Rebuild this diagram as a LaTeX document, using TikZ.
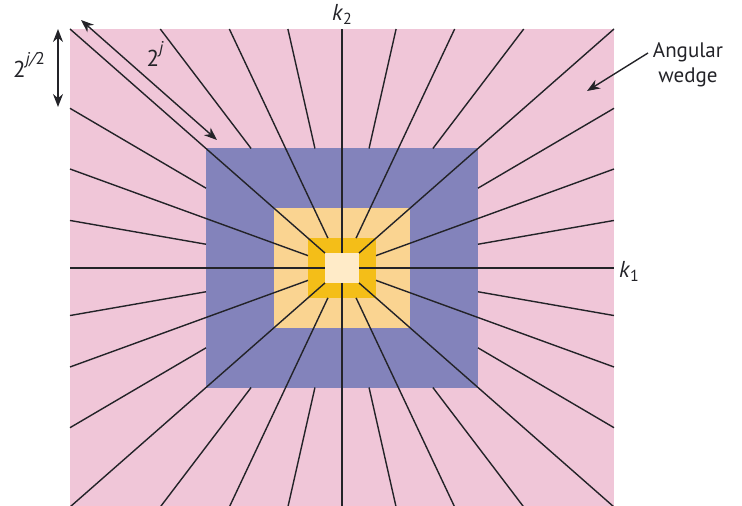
\documentclass[tikz,border=0pt]{standalone}
\usepackage{fontspec}
\setmainfont{PT Sans}
\usetikzlibrary{arrows.meta}
\definecolor{pinkc}{RGB}{240,198,216}
\definecolor{bluec}{RGB}{131,131,187}
\definecolor{orangec}{RGB}{250,212,145}
\definecolor{yellowc}{RGB}{244,190,24}
\definecolor{creamc}{RGB}{255,235,200}
\definecolor{linec}{RGB}{35,35,40}
\tikzset{
  ray/.style={draw=linec, line width=1.4pt},
  axis/.style={draw=linec!85!white, line width=1.5pt},
  dimarrow/.style={draw=linec, line width=1.4pt, {Stealth[length=13pt,width=10pt]}-{Stealth[length=13pt,width=10pt]}},
  ptr/.style={draw=linec, line width=1.4pt, -{Stealth[length=13pt,width=10pt]}},
  lbl/.style={font=\fontsize{23}{25}\selectfont, inner sep=0pt, text=linec}
}
\begin{document}
\begin{tikzpicture}[x=1pt,y=1pt]
\useasboundingbox (-342,-238) rectangle (400,268);
% rings
\fill[pinkc] (-272,-239) rectangle (272,239);
\fill[bluec] (-136,-119.5) rectangle (136,119.5);
\fill[orangec] (-68,-59.75) rectangle (68,59.75);
\fill[yellowc] (-34,-29.9) rectangle (34,29.9);
\fill[creamc] (-17,-14.9) rectangle (17,14.9);
% rays
\foreach \k in {0,...,31}{
  \pgfmathsetmacro{\t}{\k*11.25}
  \pgfmathsetmacro{\c}{cos(\t)}
  \pgfmathsetmacro{\s}{sin(\t)}
  \pgfmathsetmacro{\m}{max(abs(\c),abs(\s))}
  \pgfmathsetmacro{\rz}{mod(\k,4)==0 ? 0.0625 : (mod(\k,2)==0 ? 0.125 : 0.5)}
  \draw[ray] (\rz*\c/\m*272, \rz*\s/\m*239) -- (\c/\m*272, \s/\m*239);
}
% labels
\node[lbl] (k2) at (0,254) {\itshape k\/\raisebox{-0.35ex}{\upshape\fontsize{16}{17}\selectfont 2}};
\node[lbl] (k1) at (287,-3) {\itshape k\/\raisebox{-0.35ex}{\upshape\fontsize{16}{17}\selectfont 1}};
\node[lbl] (hj) at (-313,203) {2\raisebox{1.1ex}{\fontsize{17}{18}\selectfont\itshape j/\upshape 2}};
\node[lbl] (fj) at (-187,214) {2\raisebox{1.1ex}{\fontsize{17}{18}\selectfont\itshape j}};
\node[lbl, align=center, font=\fontsize{21}{25}\selectfont] (aw) at (346,203) {Angular\\wedge};
% arrows
\coordinate (v1) at (-284,239);
\coordinate (v2) at (-284,161);
\draw[dimarrow] (v1) -- (v2);
\coordinate (d1) at (-261,248);
\coordinate (d2) at (-125,128);
\draw[dimarrow] (d1) -- (d2);
\coordinate (w1) at (306,215);
\coordinate (w2) at (245,177);
\draw[ptr] (w1) -- (w2);
\end{tikzpicture}
\end{document}
